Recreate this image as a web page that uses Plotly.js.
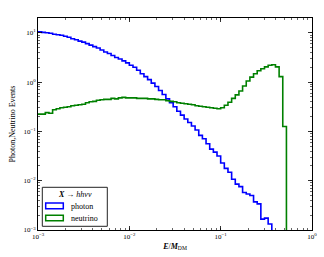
<!DOCTYPE html>
<html><head><meta charset="utf-8">
<script src="https://cdn.plot.ly/plotly-3.0.1.min.js"></script>
<style>html,body{margin:0;padding:0;background:#fff}</style>
</head><body><div id="chart" style="width:324px;height:257px"></div>
<script>
// histogram binning: 25 log-spaced bins per decade starting at E/M = 1e-3
const binsPerDecade = 25;
const firstEdgeExp = -3;

const photonValues = [10.5,10.2,10.0,9.77,9.33,9.12,8.91,8.51,8.13,7.59,
  7.24,6.76,6.46,6.03,5.62,5.25,4.90,4.47,4.07,3.80,
  3.47,3.16,2.95,2.69,2.45,2.19,2.00,1.74,1.48,1.29,
  1.12,0.955,0.813,0.676,0.562,0.457,0.380,0.316,0.257,0.214,
  0.178,0.151,0.129,0.107,0.0832,0.0708,0.0562,0.0437,0.0380,0.0316,
  0.0229,0.0178,0.0148,0.0107,0.00851,0.00759,0.00575,0.00537,0.00501,0.00372,
  0.00339,0.00166,0.00174,0.00132];

const neutrinoValues = [0.224,0.224,0.240,0.234,0.275,0.288,0.302,0.309,0.316,0.331,
  0.339,0.347,0.355,0.380,0.398,0.407,0.427,0.437,0.447,0.447,
  0.468,0.457,0.479,0.490,0.479,0.479,0.479,0.468,0.468,0.468,
  0.457,0.457,0.447,0.437,0.437,0.417,0.407,0.398,0.380,0.372,
  0.363,0.355,0.347,0.331,0.324,0.316,0.309,0.302,0.295,0.288,
  0.302,0.339,0.389,0.468,0.550,0.661,0.832,1.05,1.26,1.48,
  1.70,1.86,2.04,2.19,2.24,2.04,1.29,0.126];

const seriesNames = ['photon','neutrino'];
const seriesColors = ['#0000ff','#008000'];
const xTickVals = [0.001, 0.01, 0.1, 1];
const xTickText = ['10<sup>−3</sup>','10<sup>−2</sup>','10<sup>−1</sup>','10<sup>0</sup>'];
const yTickVals = [0.001, 0.01, 0.1, 1, 10];
const yTickText = ['10<sup>−3</sup>','10<sup>−2</sup>','10<sup>−1</sup>','10<sup>0</sup>','10<sup>1</sup>'];
const legendTitle = '<b><i>X</i></b> → <i>hhνν</i>';
const xTitle = '<i><b>E</b></i>/<i><b>M</b></i><sub>DM</sub>';
const yTitle = 'Photon,Neutrino Events';

function stepTrace(vals, color){
  const xs = [], ys = [];
  for (let i = 0; i <= vals.length; i++) {
    xs.push(Math.pow(10, firstEdgeExp + i / binsPerDecade));
    ys.push(i < vals.length ? vals[i] : 1e-6);
  }
  return {x: xs, y: ys, type: 'scatter', mode: 'lines',
    line: {shape: 'hv', color: color, width: 1.6}, showlegend: false, hoverinfo: 'skip'};
}

const font = 'Liberation Serif, DejaVu Serif, serif';
const axisCommon = {
  type: 'log', showline: true, linecolor: '#000', linewidth: 1, mirror: 'allticks',
  ticks: 'inside', ticklen: 4, tickwidth: 0.8, tickcolor: '#000',
  showgrid: false, zeroline: false, tickmode: 'array',
  tickfont: {family: font, size: 7, color: '#000'},
  minor: {ticks: 'inside', ticklen: 2, tickwidth: 0.6, tickcolor: '#000', dtick: 'D1', showgrid: false}
};

const P = (px) => (px - 38) / 274;
const Q = (py) => (230 - py) / 212;

const layout = {
  width: 324, height: 257,
  margin: {l: 38, r: 12, t: 18, b: 27},
  paper_bgcolor: '#fff', plot_bgcolor: '#fff',
  showlegend: false,
  xaxis: Object.assign({}, axisCommon, {range: [-3, 0], tickvals: xTickVals, ticktext: xTickText,
    title: {text: xTitle, font: {family: font, size: 8, color: '#000'}, standoff: 2}}),
  yaxis: Object.assign({}, axisCommon, {range: [-3, 1.3], tickvals: yTickVals, ticktext: yTickText,
    title: {text: yTitle, font: {family: font, size: 8, color: '#000'}, standoff: 6}}),
  shapes: [
    {type: 'rect', xref: 'paper', yref: 'paper', x0: P(42.3), x1: P(107.3), y0: Q(226.3), y1: Q(187.3),
      line: {color: '#222', width: 1}, fillcolor: '#fff'},
    {type: 'rect', xref: 'paper', yref: 'paper', x0: P(45.7), x1: P(63.3), y0: Q(208.7), y1: Q(203),
      line: {color: seriesColors[0], width: 1.5}, fillcolor: '#fff'},
    {type: 'rect', xref: 'paper', yref: 'paper', x0: P(45.7), x1: P(63.3), y0: Q(220.7), y1: Q(215.3),
      line: {color: seriesColors[1], width: 1.5}, fillcolor: '#fff'}
  ],
  annotations: [
    {xref: 'paper', yref: 'paper', x: P(75), y: Q(194.7), text: legendTitle, showarrow: false,
      xanchor: 'center', yanchor: 'middle', font: {family: font, size: 8, color: '#000'}},
    {xref: 'paper', yref: 'paper', x: P(69), y: Q(206), text: seriesNames[0], showarrow: false,
      xanchor: 'left', yanchor: 'middle', font: {family: font, size: 8, color: '#000'}},
    {xref: 'paper', yref: 'paper', x: P(69), y: Q(218), text: seriesNames[1], showarrow: false,
      xanchor: 'left', yanchor: 'middle', font: {family: font, size: 8, color: '#000'}}
  ]
};

Plotly.newPlot('chart', [stepTrace(photonValues, seriesColors[0]), stepTrace(neutrinoValues, seriesColors[1])],
  layout, {staticPlot: true, displayModeBar: false});
</script></body></html>
